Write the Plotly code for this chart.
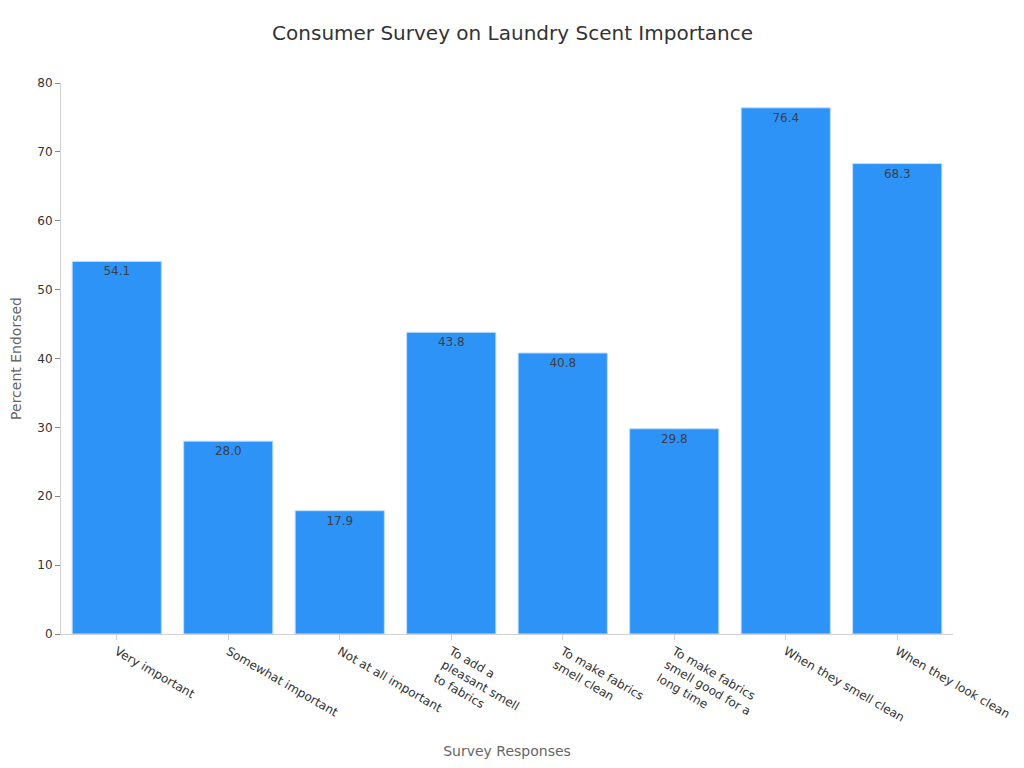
import plotly.graph_objects as go

# --- Data ---
responses = [
    "Very important",
    "Somewhat important",
    "Not at all important",
    "To add a<br>pleasant smell<br>to fabrics",
    "To make fabrics<br>smell clean",
    "To make fabrics<br>smell good for a<br>long time",
    "When they smell clean",
    "When they look clean",
]
percent_endorsed = [54.1, 28.0, 17.9, 43.8, 40.8, 29.8, 76.4, 68.3]

fig = go.Figure(go.Bar(
    x=responses,
    y=percent_endorsed,
    marker=dict(color="#2E93F7", line=dict(color="#BFDDFB", width=1)),
    text=[f"{v:.1f}" for v in percent_endorsed],
    textposition="inside",
    insidetextanchor="end",
    textfont=dict(color="#3a3f4a", size=12),
))

fig.update_layout(
    title=dict(text="Consumer Survey on Laundry Scent Importance", x=0.4927,
               y=0.968, yanchor="middle",
               font=dict(size=20, color="#333333")),
    font=dict(family="DejaVu Sans", size=12, color="#333333"),
    plot_bgcolor="white",
    paper_bgcolor="white",
    width=1024, height=768,
    margin=dict(l=53, r=79, t=75, b=142),
    bargap=0.2,
    showlegend=False,
    xaxis=dict(
        title=dict(text="Survey Responses", font=dict(size=14, color="#666666"), standoff=15),
        tickangle=30,
        showline=True, linecolor="#d0d0d0",
        ticks="outside", tickcolor="#d0d0d0", ticklen=5,
        showgrid=False,
        automargin=False,
    ),
    yaxis=dict(
        title=dict(text="Percent Endorsed", font=dict(size=14, color="#666666"), standoff=15),
        range=[0, 80], dtick=10,
        showline=True, linecolor="#d0d0d0",
        ticks="outside", tickcolor="#888888", ticklen=5,
        showgrid=False, zeroline=False,
        automargin=False,
    ),
)

fig.write_html("out.html")
